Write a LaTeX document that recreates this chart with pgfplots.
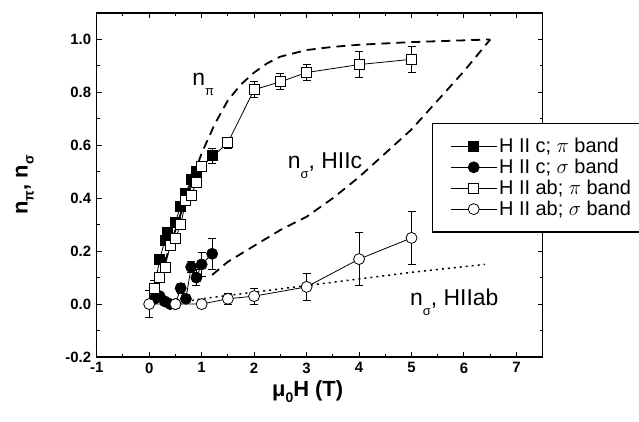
\documentclass[border=0pt]{standalone}
\usepackage{fontspec}
\setmainfont{Liberation Sans}
\usepackage{pgfplots}
\pgfplotsset{compat=1.18}

% data: x  y  error
\pgfplotstableread{
x y e
0.1 0.06 0.015
0.2 0.17 0.015
0.3 0.24 0.015
0.35 0.27 0.015
0.5 0.31 0.015
0.6 0.37 0.015
0.7 0.42 0.015
0.8 0.47 0.015
0.9 0.50 0.015
1.0 0.52 0.02
1.2 0.56 0.03
}\cpi
\pgfplotstableread{
x y e
0.1 0.02 0.01
0.2 0.03 0.01
0.3 0.01 0.01
0.4 0.00 0.01
0.5 0.00 0.01
0.6 0.06 0.02
0.7 0.02 0.01
0.8 0.14 0.02
0.9 0.10 0.03
1.0 0.15 0.045
1.2 0.19 0.06
}\csig
\pgfplotstableread{
x y e
0.1 0.06 0.03
0.2 0.10 0.015
0.3 0.14 0.015
0.4 0.22 0.015
0.5 0.25 0.015
0.6 0.30 0.015
0.7 0.39 0.015
0.8 0.41 0.015
0.9 0.46 0.015
1.0 0.52 0.02
1.5 0.61 0.02
2.0 0.81 0.03
2.5 0.84 0.03
3.0 0.875 0.03
4.0 0.905 0.05
5.0 0.925 0.05
}\abpi
\pgfplotstableread{
x y e
0.0 0.00 0.05
0.5 0.00 0.005
1.0 0.00 0.01
1.5 0.02 0.02
2.0 0.03 0.03
3.0 0.065 0.05
4.0 0.17 0.10
5.0 0.25 0.10
}\absig
% model curves
\pgfplotstableread{
x y
0.0 0.0
0.25 0.13
0.5 0.28
0.75 0.43
1.0 0.57
1.25 0.68
1.5 0.77
1.75 0.83
2.0 0.875
2.25 0.91
2.5 0.935
3.0 0.96
3.5 0.972
4.0 0.98
5.0 0.99
6.5 1.0
}\npi
\pgfplotstableread{
x y
1.2 0.11
1.5 0.16
2.0 0.22
2.5 0.28
3.0 0.33
3.5 0.40
4.0 0.48
4.5 0.57
5.0 0.66
5.5 0.77
6.0 0.88
6.5 1.0
}\nsigc
\pgfplotstableread{
x y
0.7 0.01
1.0 0.02
2.0 0.045
3.0 0.07
4.0 0.095
5.0 0.12
6.4 0.15
}\nsigab

\newcommand\sub[1]{\raisebox{-10bp}{\fontsize{13}{13}\selectfont #1}}
\newcommand\lsub[1]{\raisebox{-6bp}{\fontsize{14}{14}\selectfont\bfseries #1}}
\newcommand\lent[1]{\makebox[134bp][l]{#1}}

\pgfplotsset{
    errs/.style={
        error bars/y dir=both, error bars/y explicit,
        error bars/error bar style={line width=0.8bp, solid},
        error bars/error mark options={rotate=90, mark size=4bp, line width=0.8bp},
    },
}

\begin{document}
\begin{tikzpicture}
\begin{axis}[
    scale only axis,
    width=446bp, height=344bp,
    xmin=-1, xmax=7.5, ymin=-0.2, ymax=1.1,
    xtick={-1,0,1,2,3,4,5,6,7},
    ytick={-0.2,0,0.2,0.4,0.6,0.8,1.0},
    minor x tick num=1, minor y tick num=1,
    tick align=inside,
    major tick length=5bp, minor tick length=3bp,
    axis line style={line width=1.5bp},
    every tick/.style={black, line width=1bp},
    /pgf/number format/assume math mode=true,
    ticklabel style={font=\bfseries\fontsize{15}{15}\selectfont},
    yticklabel style={xshift=-2bp, /pgf/number format/fixed,
        /pgf/number format/fixed zerofill, /pgf/number format/precision=1},
    xticklabel style={yshift=-5bp, inner ysep=0.5bp},
    xlabel={\bfseries μ\lsub{0}H (T)},
    ylabel={\bfseries n\lsub{π}, n\lsub{σ}},
    every axis x label/.style={at={(axis description cs:0.473,-0.115)}, anchor=base,
        inner sep=0pt, font=\fontsize{22}{22}\selectfont},
    every axis y label/.style={at={(axis description cs:-0.161,0.5)}, rotate=90, anchor=center,
        font=\fontsize{22}{22}\selectfont},
    legend cell align=left,
    legend style={at={(axis cs:5.385,0.685)}, anchor=north west,
        draw=black, line width=1.2bp, font=\fontsize{20}{20}\selectfont,
        inner xsep=18bp, inner ysep=13bp, row sep=1bp},
    legend image code/.code={\draw[mark repeat=2,mark phase=2]
        plot coordinates {(0bp,0bp) (23bp,0bp) (46bp,0bp)};},
]
% model curves
\addplot[forget plot, black, line width=1.8bp, dash pattern=on 9bp off 6bp] table {\npi};
\addplot[forget plot, black, line width=1.8bp, dash pattern=on 9bp off 6bp] table {\nsigc};
\addplot[forget plot, black, line width=1.5bp, dash pattern=on 2bp off 4bp] table {\nsigab};
% data
\addplot[black, line width=0.8bp, mark=square*, mark size=5bp, mark options={fill=black, solid}, errs]
    table[y error=e] {\cpi};
\addlegendentry{\lent{H II c; $\pi$ band}}
\addplot[black, line width=0.8bp, mark=*, mark size=5.5bp, mark options={fill=black, solid}, errs]
    table[y error=e] {\csig};
\addlegendentry{\lent{H II c; $\sigma$ band}}
\addplot[black, line width=0.8bp, mark=square*, mark size=5bp, mark options={fill=white, solid}, errs]
    table[y error=e] {\abpi};
\addlegendentry{\lent{H II ab; $\pi$ band}}
\addplot[black, line width=0.8bp, mark=*, mark size=5.5bp, mark options={fill=white, solid}, errs]
    table[y error=e] {\absig};
\addlegendentry{\lent{H II ab; $\sigma$ band}}
% annotations
\node[anchor=base west, inner sep=0, font=\fontsize{23}{23}\selectfont] at (axis cs:0.82,0.825) {n\sub{π}};
\node[anchor=base west, inner sep=0, font=\fontsize{23}{23}\selectfont] at (axis cs:2.64,0.511) {n\sub{σ}, HIIc};
\node[anchor=base west, inner sep=0, font=\fontsize{23}{23}\selectfont] at (axis cs:4.97,-0.006) {n\sub{σ}, HIIab};
\end{axis}
\pgfresetboundingbox
\path[use as bounding box] ([shift={(-96.7bp,-65bp)}]current axis.south west) rectangle ([shift={(96.3bp,13bp)}]current axis.north east);
\end{tikzpicture}
\end{document}
